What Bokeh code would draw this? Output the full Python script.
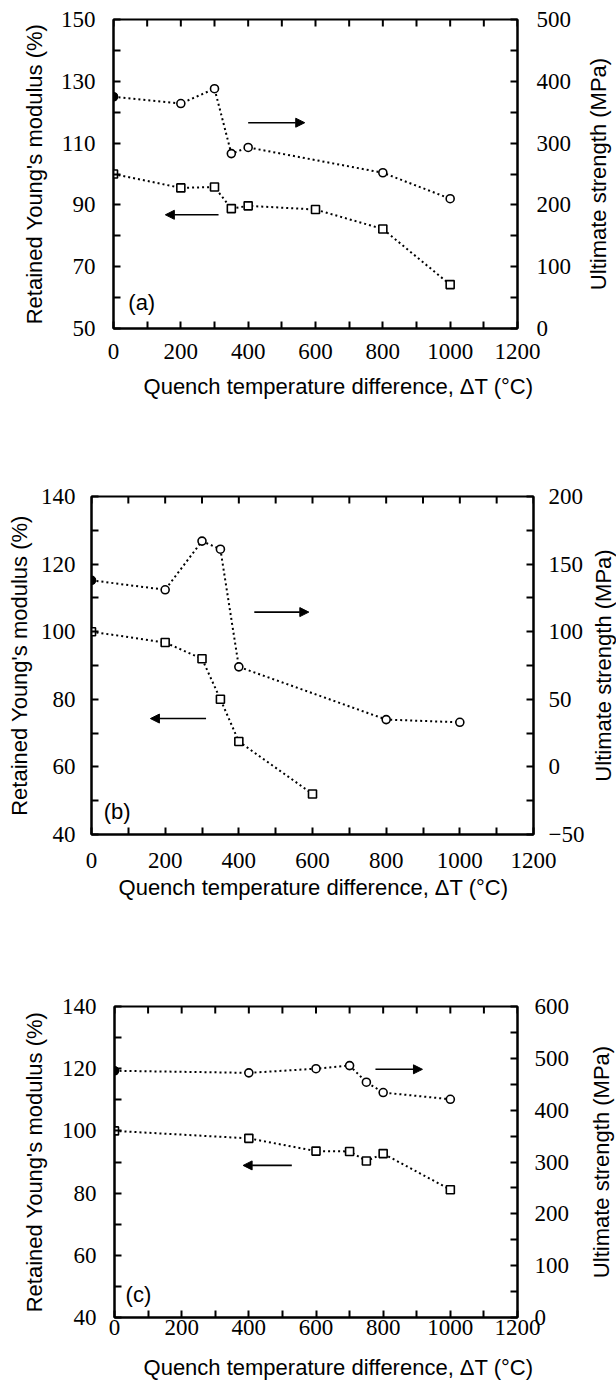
import math
from bokeh.plotting import figure
from bokeh.models import Range1d, LinearAxis, FixedTicker, Arrow, NormalHead
from bokeh.layouts import row
from bokeh.core.properties import value
from bokeh.embed import file_html
from bokeh.resources import INLINE

# ---------------- data ----------------
x_ticks = [0, 200, 400, 600, 800, 1000, 1200]
x_minor = [100, 300, 500, 700, 900, 1100]

# panel (a)
a_x_mod = [0, 200, 300, 350, 400, 600, 800, 1000]
a_modulus = [100, 95.5, 95.8, 88.8, 89.7, 88.5, 82.2, 64.2]
a_x_str = [0, 200, 300, 350, 400, 800, 1000]
a_strength = [375, 364, 388, 283, 293, 252, 210]
a_left_ticks = [50, 70, 90, 110, 130, 150]
a_left_minor = [60, 80, 100, 120, 140]
a_right_ticks = [0, 100, 200, 300, 400, 500]
a_right_minor = [50, 150, 250, 350, 450]
a_arrows = [(400, 116.6, 568, 116.6), (312, 86.8, 154, 86.8)]

# panel (b)
b_x_mod = [0, 200, 300, 350, 400, 600]
b_modulus = [100, 96.8, 92, 80, 67.5, 52]
b_x_str = [0, 200, 300, 350, 400, 800, 1000]
b_strength = [138, 131, 167, 161, 74, 35, 33]
b_left_ticks = [40, 60, 80, 100, 120, 140]
b_left_minor = [50, 70, 90, 110, 130]
b_right_ticks = [-50, 0, 50, 100, 150, 200]
b_right_minor = [-25, 25, 75, 125, 175]
b_arrows = [(442, 105.8, 590, 105.8), (311, 74.3, 160, 74.3)]

# panel (c)
c_x_mod = [0, 400, 600, 700, 750, 800, 1000]
c_modulus = [100, 97.6, 93.5, 93.4, 90.3, 92.7, 81.1]
c_x_str = [0, 400, 600, 700, 750, 800, 1000]
c_strength = [476, 472, 480, 486, 454, 434, 421]
c_left_ticks = [40, 60, 80, 100, 120, 140]
c_left_minor = [50, 70, 90, 110, 130]
c_right_ticks = [0, 100, 200, 300, 400, 500, 600]
c_right_minor = [50, 150, 250, 350, 450, 550]
c_arrows = [(777, 119.8, 917, 119.8), (528, 88.9, 383, 88.9)]

X_TITLE = "Quench temperature difference, \u0394T (\u00b0C)"
Y_LEFT = "Retained Young's modulus (%)"
Y_RIGHT = "Ultimate strength (MPa)"

TICK_FONT = "Liberation Sans Narrow"
TITLE_FONT = "Liberation Sans"
X_MAX = 1200


def style_axis(ax, standoff, label_standoff=0):
    ax.axis_line_width = 2
    ax.axis_line_color = "black"
    ax.major_tick_in = 7
    ax.major_tick_out = 0
    ax.minor_tick_in = 7
    ax.minor_tick_out = 0
    ax.major_tick_line_width = 2
    ax.minor_tick_line_width = 2
    ax.major_label_text_font = TICK_FONT
    ax.major_label_text_font_size = "23px"
    ax.major_label_text_color = "black"
    ax.major_label_standoff = standoff
    ax.axis_label_text_font = TITLE_FONT
    ax.axis_label_text_font_style = "normal"
    ax.axis_label_text_font_size = "22px"
    ax.axis_label_text_color = "black"
    ax.axis_label_standoff = label_standoff


def title_axis(ax, standoff, text_pos, text):
    """An axis with no line/ticks whose single tick label is a title."""
    ax.ticker = FixedTicker(ticks=[text_pos], minor_ticks=[])
    ax.major_label_overrides = {text_pos: text}
    ax.axis_line_color = None
    ax.major_tick_line_color = None
    ax.minor_tick_line_color = None
    ax.major_tick_out = 0
    ax.major_tick_in = 0
    ax.major_label_text_font = TITLE_FONT
    ax.major_label_text_font_size = "22px"
    ax.major_label_text_color = "black"
    ax.major_label_standoff = standoff


def make_panel(letter, geom, yl, yr, lt, lm, rt, rm, xm, ym, xs, ys, arrows,
               tag_pos, offs, xtitle_center_px, rtitle):
    left, fw, right, top, fh, bottom = geom
    p = figure(frame_width=fw, frame_height=fh,
               min_border_left=left, min_border_right=right,
               min_border_top=top, min_border_bottom=bottom,
               x_range=Range1d(0, X_MAX), y_range=Range1d(*yl),
               x_axis_location=None, y_axis_location=None,
               output_backend="svg", toolbar_location=None,
               background_fill_color="white", border_fill_color="white")
    p.extra_y_ranges = {"y2": Range1d(*yr)}
    p.xgrid.visible = False
    p.ygrid.visible = False
    p.outline_line_color = "black"
    p.outline_line_width = 2

    # x axis with ticks
    xb = LinearAxis(ticker=FixedTicker(ticks=x_ticks, minor_ticks=x_minor))
    style_axis(xb, offs["xb"])
    p.add_layout(xb, "below")
    # x axis title
    xt = LinearAxis()
    title_axis(xt, offs["xt"], (xtitle_center_px - left) * X_MAX / fw, X_TITLE)
    p.add_layout(xt, "below")

    # left axis
    yla = LinearAxis(ticker=FixedTicker(ticks=lt, minor_ticks=lm),
                     axis_label=Y_LEFT)
    style_axis(yla, offs["yl"], offs["ylt"])
    p.add_layout(yla, "left")

    # right axis
    yra = LinearAxis(y_range_name="y2",
                     ticker=FixedTicker(ticks=rt, minor_ticks=rm))
    style_axis(yra, offs["yr"])
    yra.major_label_overrides = {t: ("\u2212" + str(-t)) for t in rt if t < 0}
    p.add_layout(yra, "right")

    # inward ticks on the top edge
    d = (yl[1] - yl[0]) * 7.0 / fh
    top_t = x_ticks + x_minor
    p.segment(x0=top_t, y0=[yl[1]] * len(top_t), x1=top_t,
              y1=[yl[1] - d] * len(top_t), line_color="black", line_width=2)

    # modulus series (left axis) - squares
    p.line(xm, ym, line_color="black", line_width=2, line_dash="2 3")
    p.scatter(xm, ym, marker="square", size=8, line_color="black",
              line_width=1.6, fill_color="white")
    # strength series (right axis) - circles
    p.line(xs, ys, y_range_name="y2", line_color="black", line_width=2,
           line_dash="2 3")
    p.scatter(xs, ys, y_range_name="y2", marker="circle", size=8,
              line_color="black", line_width=1.6, fill_color="white")
    p.scatter(xs[:1], ys[:1], y_range_name="y2", marker="circle", size=8,
              line_color="black", fill_color="black")

    for (x0, y0, x1, y1) in arrows:
        p.add_layout(Arrow(end=NormalHead(size=9, fill_color="black",
                                          line_color="black"),
                           x_start=x0, y_start=y0, x_end=x1, y_end=y1,
                           line_width=1.6, line_color="black"))

    p.text(x=[tag_pos[0]], y=[tag_pos[1]], text=["(" + letter + ")"],
           text_font=value(TITLE_FONT), text_font_size="22px",
           text_baseline="middle", text_align="left", text_color="black")

    # narrow companion figure carrying the right-hand title (bottom-to-top)
    tw, tcx = rtitle
    t = figure(frame_width=tw, frame_height=fh,
               min_border_left=0, min_border_right=0,
               min_border_top=top, min_border_bottom=bottom,
               x_range=Range1d(0, tw), y_range=Range1d(*yl),
               x_axis_location=None, y_axis_location=None,
               output_backend="svg", toolbar_location=None,
               background_fill_color="white", border_fill_color="white")
    t.xgrid.visible = False
    t.ygrid.visible = False
    t.outline_line_color = None
    t.text(x=[tcx], y=[(yl[0] + yl[1]) / 2.0], text=[Y_RIGHT],
           angle=math.pi / 2, text_align="center", text_baseline="middle",
           text_font=value(TITLE_FONT), text_font_size="22px",
           text_color="black")
    return row(p, t, spacing=0)


pa = make_panel("a", (113, 404, 53, 19, 309, 112), (50, 150), (0, 500),
                a_left_ticks, a_left_minor, a_right_ticks, a_right_minor,
                a_x_mod, a_modulus, a_x_str, a_strength, a_arrows, (44, 58.4),
                dict(xb=15, xt=12, yl=18, ylt=11, yr=19), 338, (46, 24))
pb = make_panel("b", (91, 442, 56, 56, 338, 76), (40, 140), (-50, 200),
                b_left_ticks, b_left_minor, b_right_ticks, b_right_minor,
                b_x_mod, b_modulus, b_x_str, b_strength, b_arrows, (33, 46.7),
                dict(xb=18, xt=4, yl=16, ylt=6, yr=15), 313, (27, 13.5))
pc = make_panel("c", (114, 403, 52, 96, 311, 71), (40, 140), (0, 600),
                c_left_ticks, c_left_minor, c_right_ticks, c_right_minor,
                c_x_mod, c_modulus, c_x_str, c_strength, c_arrows, (33, 47.4),
                dict(xb=2, xt=17, yl=18, ylt=12, yr=17), 338, (47, 29))

open("out.html", "w").write(file_html([pa, pb, pc], INLINE))
